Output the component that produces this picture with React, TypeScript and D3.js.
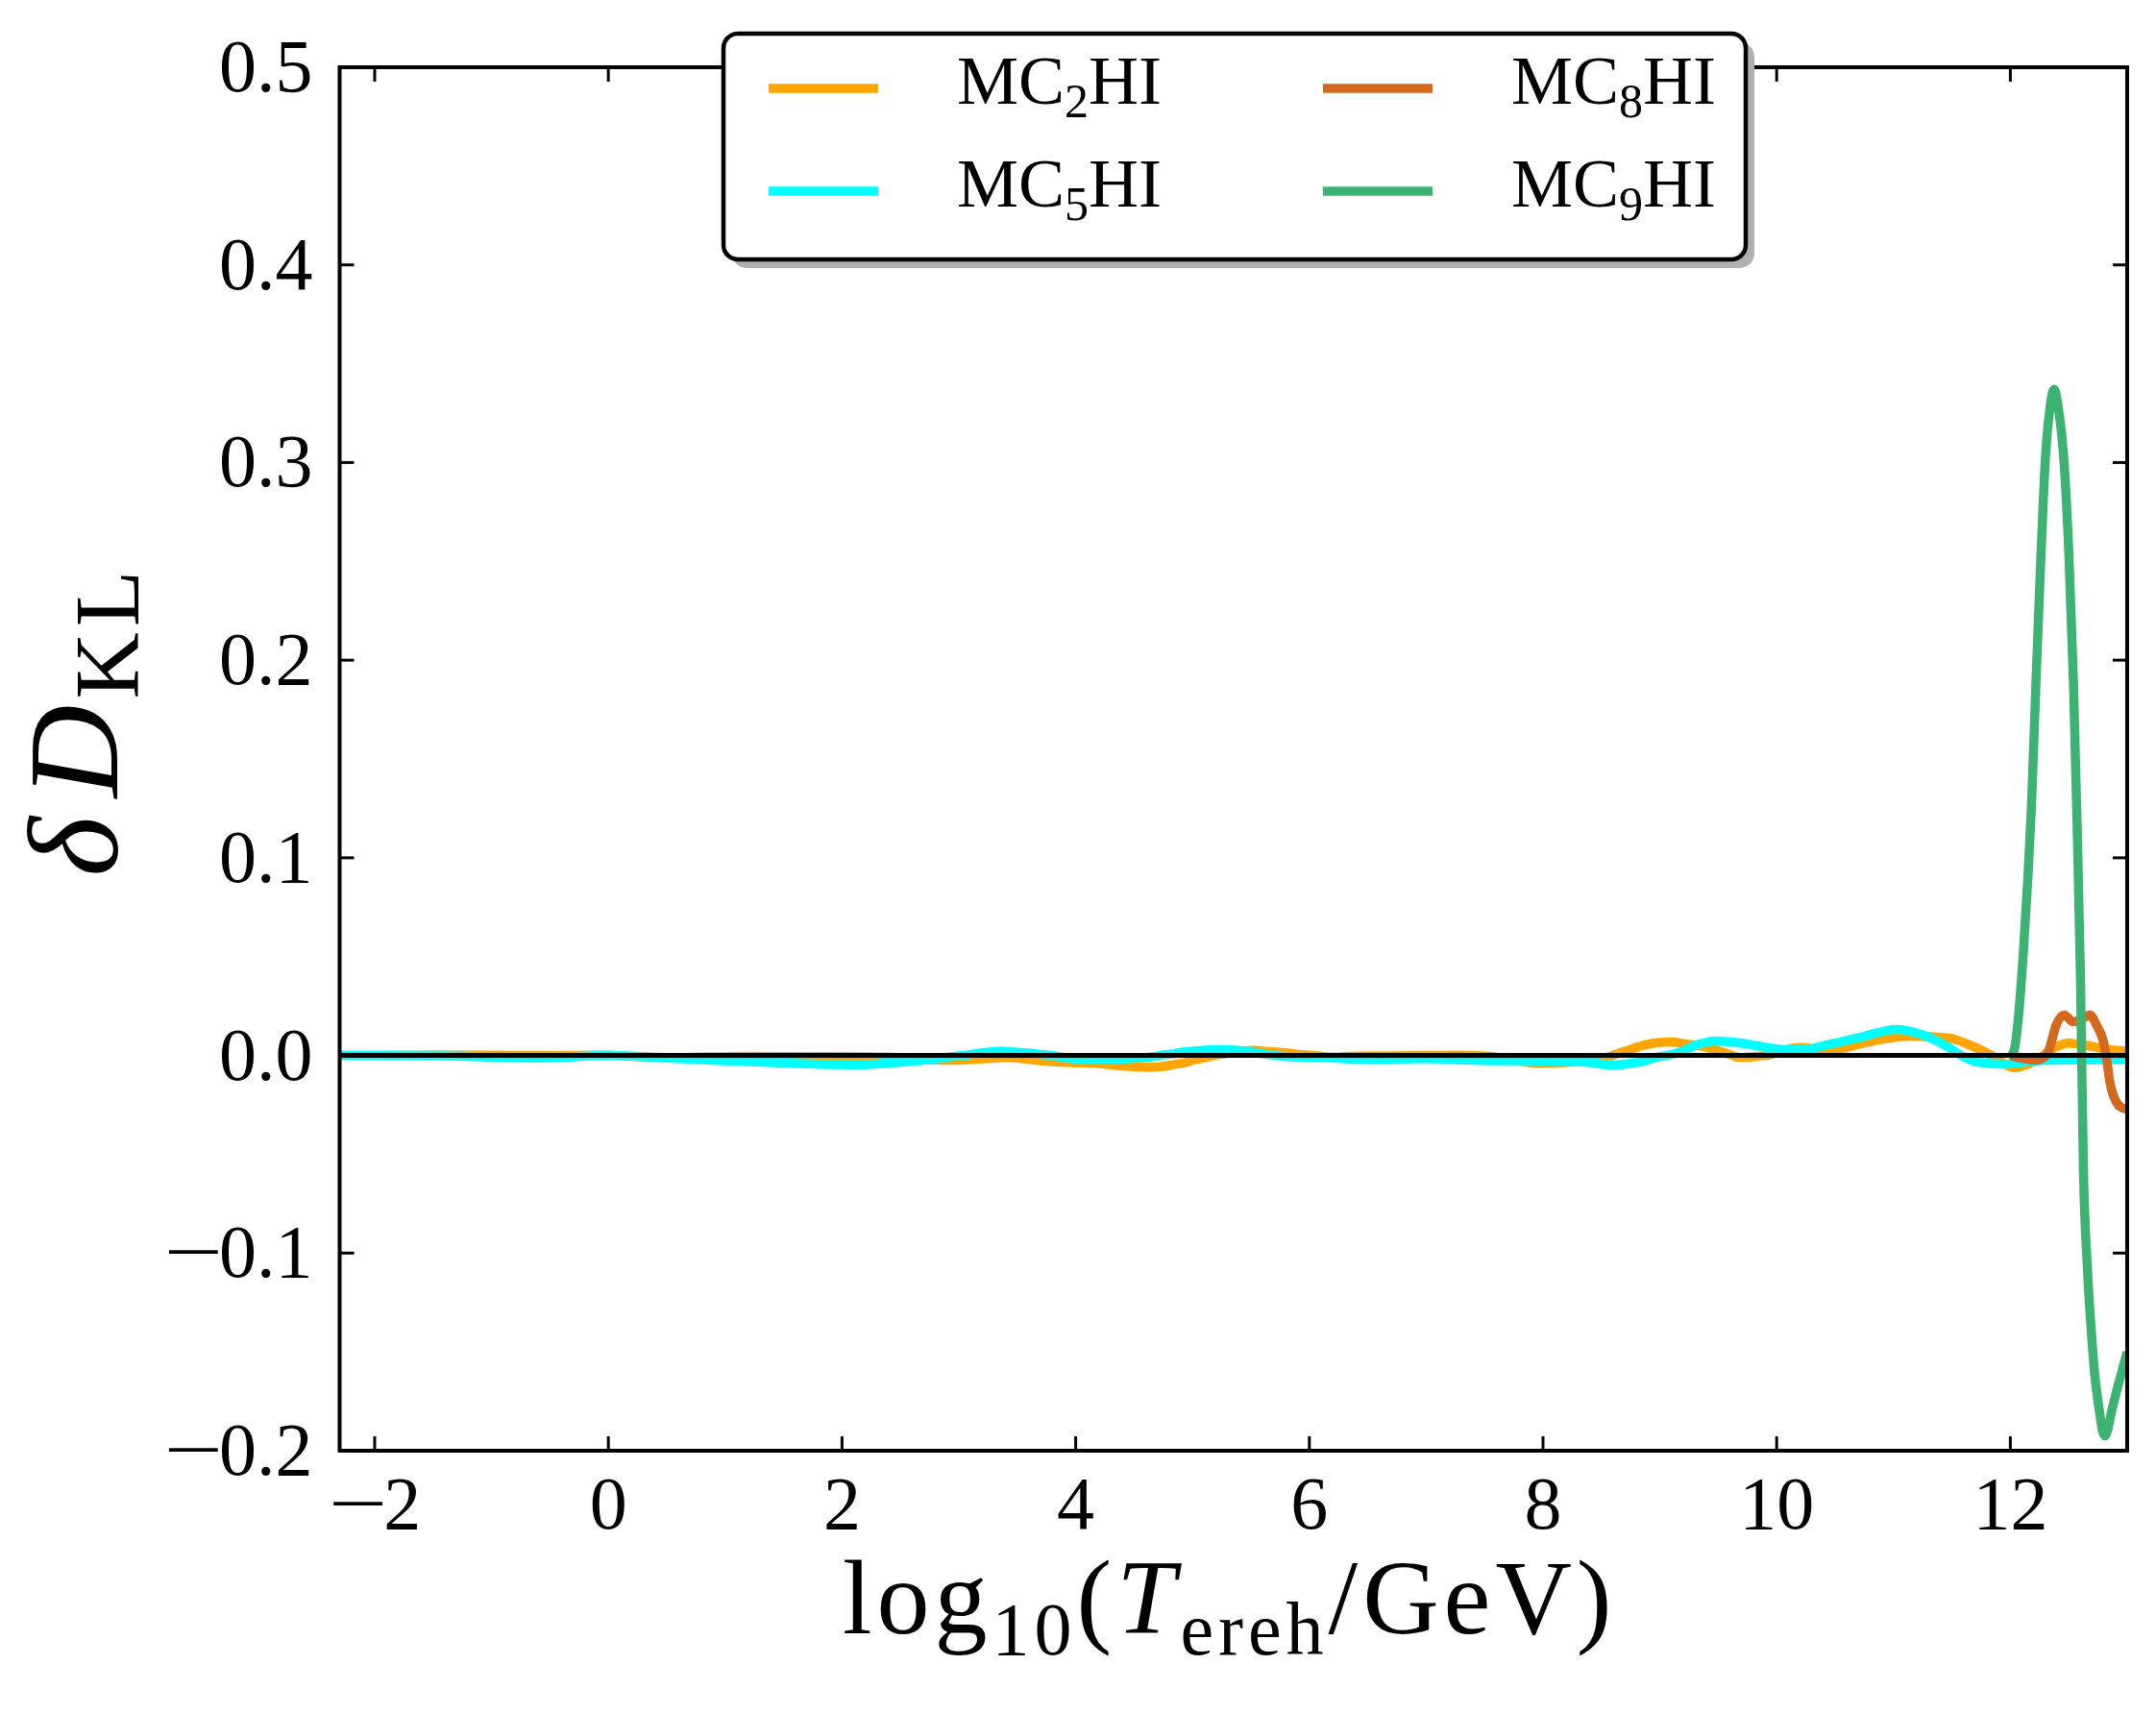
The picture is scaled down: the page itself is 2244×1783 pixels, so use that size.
import React from "react";
import * as d3 from "d3";

const W = 2244;
const H = 1783;

const xTicks = [-2, 0, 2, 4, 6, 8, 10, 12];
const yTicks = [-0.2, -0.1, 0.0, 0.1, 0.2, 0.3, 0.4, 0.5];

// MC2HI (orange)
const mc2hi: [number, number][] = [
  [-2.3, 0.0], [-1.8, 0.0001], [-1.5, 0.0003], [-1.0, 0.0002], [-0.7, 0.0], [-0.4, -0.0001],
  [-0.2, 0.0002], [0.0, 0.0001], [0.2, -0.0005], [0.4, -0.0009], [0.55, -0.0011], [0.8, -0.0008],
  [1.2, -0.0005], [1.6, -0.0006], [2.0, -0.0006], [2.35, -0.0008], [2.6, -0.0015], [2.89, -0.0024],
  [3.1, -0.0021], [3.24, -0.0016], [3.41, -0.0011], [3.59, -0.0019], [3.74, -0.0029], [3.96, -0.0036],
  [4.18, -0.004], [4.39, -0.0053], [4.61, -0.006], [4.73, -0.0057], [4.85, -0.0045], [4.94, -0.0036],
  [5.0, -0.0024], [5.09, -0.0013], [5.17, -0.0003], [5.22, 0.0003], [5.35, 0.0015], [5.52, 0.0026],
  [5.61, 0.0021], [5.74, 0.0016], [5.83, 0.0011], [5.92, 0.0005], [6.03, 0.0], [6.2, -0.0008],
  [6.4, -0.0003], [6.7, -0.0002], [7.0, 0.0], [7.3, 0.0002], [7.55, -0.0005], [7.77, -0.0027],
  [7.9, -0.0037], [8.02, -0.004], [8.18, -0.0036], [8.29, -0.003], [8.42, -0.002], [8.54, -0.0011],
  [8.62, 0.0005], [8.7, 0.0021], [8.78, 0.0037], [8.87, 0.0053], [8.98, 0.0065], [9.09, 0.0069],
  [9.2, 0.006], [9.41, 0.004], [9.55, 0.0015], [9.69, -0.0011], [9.83, -0.0005], [9.94, 0.0003],
  [10.08, 0.003], [10.21, 0.004], [10.35, 0.0028], [10.42, 0.0022], [10.69, 0.0055], [10.9, 0.0082],
  [11.13, 0.0098], [11.46, 0.0089], [11.65, 0.0054], [11.84, 0.0], [12.03, -0.0062], [12.22, -0.0025],
  [12.39, 0.0043], [12.5, 0.0062], [12.66, 0.005], [12.83, 0.0031], [13.0, 0.0022],
];

// MC5HI (cyan)
const mc5hi: [number, number][] = [
  [-2.3, 0.0], [-1.5, -0.0002], [-1.2, -0.0004], [-1.0, -0.0008], [-0.8, -0.0012], [-0.6, -0.0013],
  [-0.4, -0.001], [-0.2, -0.0003], [0.0, 0.0], [0.25, -0.0004], [0.45, -0.0012], [0.72, -0.0018],
  [0.85, -0.0023], [1.07, -0.0028], [1.26, -0.0033], [1.47, -0.0037], [1.67, -0.0042], [1.9, -0.0046],
  [2.15, -0.0047], [2.35, -0.0041], [2.46, -0.0036], [2.56, -0.0031], [2.66, -0.0026], [2.74, -0.0021],
  [2.85, -0.0013], [2.95, -0.0005], [3.06, 0.0002], [3.14, 0.0008], [3.22, 0.0015], [3.37, 0.0021],
  [3.5, 0.0016], [3.61, 0.0011], [3.7, 0.0005], [3.8, 0.0], [3.91, -0.0012], [4.05, -0.002],
  [4.18, -0.0023], [4.35, -0.002], [4.55, -0.0012], [4.69, -0.0004], [4.74, 0.0002], [4.84, 0.0008],
  [4.89, 0.0015], [4.96, 0.0019], [5.03, 0.0024], [5.25, 0.0029], [5.43, 0.0024], [5.6, 0.0008],
  [5.75, -0.0003], [5.95, -0.0008], [6.13, -0.001], [6.26, -0.0016], [6.54, -0.0021], [6.98, -0.0016],
  [7.25, -0.0021], [7.55, -0.0026], [8.04, -0.0028], [8.4, -0.0036], [8.59, -0.0049], [8.73, -0.0042],
  [8.87, -0.0028], [8.98, -0.0008], [9.09, 0.0003], [9.17, 0.0016], [9.3, 0.005], [9.47, 0.0073],
  [9.69, 0.0062], [9.83, 0.0049], [9.96, 0.0036], [10.1, 0.0028], [10.26, 0.0031], [10.42, 0.0052],
  [10.69, 0.0088], [11.03, 0.0132], [11.24, 0.0106], [11.46, 0.0045], [11.6, -0.0007], [11.73, -0.0035],
  [11.95, -0.0045], [12.17, -0.003], [12.33, -0.0024], [13.0, -0.0021],
];

// MC8HI (chocolate)
const mc8hi: [number, number][] = [
  [12.0, 0.0], [12.11, -0.0016], [12.22, -0.0024], [12.3, -0.0005], [12.34, 0.0045], [12.39, 0.015],
  [12.46, 0.0205], [12.54, 0.017], [12.61, 0.0185], [12.68, 0.0205], [12.74, 0.015], [12.8, 0.0063],
  [12.83, -0.0041], [12.85, -0.0128], [12.89, -0.0215], [12.94, -0.0259], [13.0, -0.0272],
];

// MC9HI (green)
const mc9hi: [number, number][] = [
  [12.0, 0.0], [12.03, 0.002], [12.07, 0.02], [12.11, 0.051], [12.15, 0.09], [12.18, 0.125],
  [12.22, 0.19], [12.26, 0.25], [12.3, 0.302], [12.34, 0.328], [12.375, 0.337], [12.41, 0.328],
  [12.46, 0.3], [12.5, 0.255], [12.54, 0.189], [12.57, 0.12], [12.6, 0.04], [12.625, -0.056],
  [12.66, -0.108], [12.69, -0.137], [12.72, -0.16], [12.76, -0.179], [12.79, -0.19], [12.81, -0.1925],
  [12.83, -0.19], [12.86, -0.182], [12.9, -0.172], [12.95, -0.161], [13.0, -0.15],
];

const seriesNames = ["2", "5", "8", "9"];
const seriesColors = ["#FFA500", "#00FFFF", "#D2691E", "#3CB371"];
const seriesData = [mc2hi, mc5hi, mc8hi, mc9hi];

const FONT = "'Liberation Serif', 'DejaVu Serif', serif";

export default function App() {
  const left = 353.5, right = 2214, top = 70, bottom = 1510;
  const x = d3.scaleLinear().domain([-2.3, 13]).range([left, right]);
  const y = d3.scaleLinear().domain([-0.2, 0.5]).range([bottom, top]);
  const line = d3
    .line<[number, number]>()
    .x((d) => x(d[0]))
    .y((d) => y(d[1]))
    .curve(d3.curveMonotoneX);

  const tickLen = 15;
  const tickFont = 78;
  const digitW = 0.5 * tickFont;
  const dotW = 0.25 * tickFont;
  const minusW = 0.564 * tickFont * 1.4; // stretched minus advance

  // label with a widened minus sign placed so that the whole label ends at xEnd
  const numLabel = (s: string, neg: boolean, xEnd: number, yBase: number, key: string) => {
    const w = s.split("").reduce((a, c) => a + (c === "." ? dotW : digitW), 0);
    const numStart = xEnd - w;
    return (
      <g key={key}>
        {neg && (
          <text
            transform={`translate(${numStart - minusW + 4}, ${yBase}) scale(1.4, 1)`}
            fontSize={tickFont}
            fill="#000"
          >
            {"\u2212"}
          </text>
        )}
        <text x={xEnd} y={yBase} fontSize={tickFont} textAnchor="end" fill="#000">
          {s}
        </text>
      </g>
    );
  };

  // legend layout
  const lg = { x0: 753, y0: 35, x1: 1817, y1: 270 };
  const legendRows = [92, 199];
  const legendCols = [
    { lx0: 800, lx1: 914, tx: 996 },
    { lx0: 1377, lx1: 1491, tx: 1573 },
  ];

  return (
    <svg
      width={W}
      height={H}
      viewBox={`0 0 ${W} ${H}`}
      style={{ position: "absolute", left: 0, top: 0, background: "#fff" }}
      fontFamily={FONT}
    >
      <rect x={0} y={0} width={W} height={H} fill="#fff" />
      <defs>
        <clipPath id="plotClip">
          <rect x={left} y={top} width={right - left} height={bottom - top} />
        </clipPath>
      </defs>

      {/* series */}
      <g clipPath="url(#plotClip)">
        {seriesData.map((d, i) => (
          <path
            key={i}
            d={line(d) || ""}
            fill="none"
            stroke={seriesColors[i]}
            strokeWidth={9.5}
            strokeLinejoin="round"
            strokeLinecap="butt"
          />
        ))}
        <line x1={left} x2={right} y1={y(0)} y2={y(0)} stroke="#000" strokeWidth={5} />
      </g>

      {/* ticks */}
      {xTicks.map((t) => {
        const s = String(Math.abs(t));
        const neg = t < 0;
        const w = s.length * digitW + (neg ? minusW - 4 : 0);
        return (
          <g key={"xt" + t}>
            <line x1={x(t)} x2={x(t)} y1={bottom} y2={bottom - tickLen} stroke="#000" strokeWidth={3} />
            <line x1={x(t)} x2={x(t)} y1={top} y2={top + tickLen} stroke="#000" strokeWidth={3} />
            {numLabel(s, neg, x(t) + w / 2, bottom + 81, "xl" + t)}
          </g>
        );
      })}
      {yTicks.map((t) => (
        <g key={"yt" + t}>
          <line x1={left} x2={left + tickLen} y1={y(t)} y2={y(t)} stroke="#000" strokeWidth={3} />
          <line x1={right} x2={right - tickLen} y1={y(t)} y2={y(t)} stroke="#000" strokeWidth={3} />
          {numLabel(Math.abs(t).toFixed(1), t < -1e-9, left - 28, y(t) + 25, "yl" + t)}
        </g>
      ))}

      {/* frame */}
      <rect x={left} y={top} width={right - left} height={bottom - top} fill="none" stroke="#000" strokeWidth={4} />

      {/* x label */}
      <text x={(left + right) / 2 - 4} y={1700} fontSize={110} textAnchor="middle" fill="#000" letterSpacing={5}>
        <tspan>log</tspan>
        <tspan fontSize={78} dy={22}>10</tspan>
        <tspan dy={-22}>(</tspan>
        <tspan fontStyle="italic">T</tspan>
        <tspan fontSize={78} dy={22}>ereh</tspan>
        <tspan dy={-22}>/GeV)</tspan>
      </text>

      {/* y label */}
      <text
        transform={`translate(122, 750) rotate(-90)`}
        fontSize={134}
        textAnchor="middle"
        fill="#000"
        letterSpacing={6}
      >
        <tspan fontStyle="italic">δ</tspan>
        <tspan dx={14} fontStyle="italic">D</tspan>
        <tspan fontSize={96} dy={22}>KL</tspan>
      </text>

      {/* legend */}
      <rect x={lg.x0 + 9} y={lg.y0 + 9} width={lg.x1 - lg.x0} height={lg.y1 - lg.y0} rx={15} fill="#b0b0b0" />
      <rect x={lg.x0} y={lg.y0} width={lg.x1 - lg.x0} height={lg.y1 - lg.y0} rx={15} fill="#fff" stroke="#000" strokeWidth={4.5} />
      {seriesNames.map((n, i) => {
        const col = legendCols[Math.floor(i / 2)];
        const ry = legendRows[i % 2];
        return (
          <g key={"lg" + n}>
            <line x1={col.lx0} x2={col.lx1} y1={ry} y2={ry} stroke={seriesColors[i]} strokeWidth={9.5} />
            <text x={col.tx} y={ry + 16} fontSize={72} fill="#000">
              <tspan>MC</tspan>
              <tspan fontSize={50} dy={14}>{n}</tspan>
              <tspan dy={-14}>HI</tspan>
            </text>
          </g>
        );
      })}
    </svg>
  );
}
